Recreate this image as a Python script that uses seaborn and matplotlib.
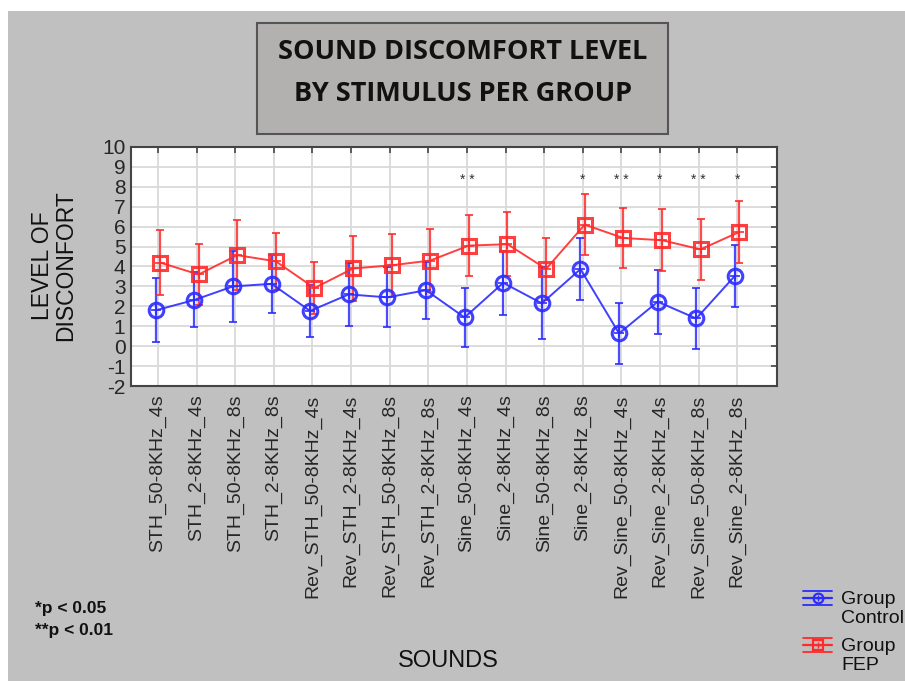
import numpy as np
import pandas as pd
import matplotlib
matplotlib.use("Agg")
import matplotlib.pyplot as plt
import seaborn as sns
from matplotlib.patches import Rectangle

# ---------------- data ----------------
sounds = ["STH_50-8KHz_4s", "STH_2-8KHz_4s", "STH_50-8KHz_8s", "STH_2-8KHz_8s",
          "Rev_STH_50-8KHz_4s", "Rev_STH_2-8KHz_4s", "Rev_STH_50-8KHz_8s", "Rev_STH_2-8KHz_8s",
          "Sine_50-8KHz_4s", "Sine_2-8KHz_4s", "Sine_50-8KHz_8s", "Sine_2-8KHz_8s",
          "Rev_Sine_50-8KHz_4s", "Rev_Sine_2-8KHz_4s", "Rev_Sine_50-8KHz_8s", "Rev_Sine_2-8KHz_8s"]
control_mean = [1.80, 2.32, 3.00, 3.13, 1.77, 2.60, 2.45, 2.81, 1.44, 3.18, 2.15, 3.87, 0.64, 2.23, 1.39, 3.53]
control_err = [1.60, 1.38, 1.78, 1.45, 1.30, 1.60, 1.50, 1.43, 1.50, 1.60, 1.80, 1.54, 1.53, 1.60, 1.53, 1.55]
fep_mean = [4.20, 3.60, 4.57, 4.26, 2.92, 3.90, 4.06, 4.30, 5.05, 5.12, 3.88, 6.10, 5.43, 5.32, 4.86, 5.73]
fep_err = [1.63, 1.55, 1.75, 1.43, 1.30, 1.63, 1.57, 1.57, 1.53, 1.60, 1.57, 1.53, 1.50, 1.56, 1.55, 1.55]
signif = ["", "", "", "", "", "", "", "", "**", "", "", "*", "**", "*", "**", "*"]
groups = ["Control", "FEP"]
y_ticks = list(range(-2, 11))

# ---------------- style ----------------
sns.set_theme(style="white")
plt.rcParams["font.family"] = ["Liberation Sans", "DejaVu Sans"]

W, H = 905, 681
fig = plt.figure(figsize=(W / 100, H / 100), dpi=100)
fig.patch.set_facecolor("white")

# gray page background
bg = fig.add_axes([0, 0, 1, 1])
bg.set_xlim(0, W)
bg.set_ylim(H, 0)
bg.axis("off")
bg.add_patch(Rectangle((8, 11), W - 8, H - 11, facecolor="#c0c0c0", edgecolor="none"))

# main axes
left, right, top, bottom = 131, 777, 147, 386
ax = fig.add_axes([left / W, 1 - bottom / H, (right - left) / W, (bottom - top) / H])
ax.set_facecolor("white")

blue = "#2b2bff"
red = "#ff2b2b"
offsets = {"Control": -0.06, "FEP": 0.05}
colors = {"Control": blue, "FEP": red}

x = np.arange(len(sounds))
df = pd.DataFrame({
    "pos": np.concatenate([x + offsets["Control"], x + offsets["FEP"]]),
    "mean": control_mean + fep_mean,
    "err": control_err + fep_err,
    "group": ["Control"] * len(sounds) + ["FEP"] * len(sounds),
})

for g, mk, ms in [("Control", "o", 10.5), ("FEP", "s", 10.5)]:
    sub = df[df["group"] == g]
    ax.errorbar(sub["pos"], sub["mean"], yerr=sub["err"], fmt="none",
                ecolor=colors[g], elinewidth=1.6, capsize=3, capthick=1.4, alpha=0.85, zorder=3)
    sns.lineplot(data=sub, x="pos", y="mean", ax=ax, color=colors[g], lw=1.4,
                 marker=mk, markersize=ms, markerfacecolor="none",
                 markeredgecolor=colors[g], markeredgewidth=2.2, alpha=0.9,
                 legend=False, zorder=4)
    ax.plot(sub["pos"], sub["mean"], linestyle="none", marker="+", markersize=ms * 0.75,
            color=colors[g], markeredgewidth=1.3, alpha=0.9, zorder=5)

for i, s in enumerate(signif):
    if s:
        ax.text(i, 8.35, " ".join(s), ha="center", va="center", fontsize=10, color="#333333")

ax.set_xlim(-0.70, 16.03)
ax.set_ylim(-2, 10)
ax.set_xticks(x)
ax.set_xticklabels(sounds, rotation=90, fontsize=14, va="top", ha="center")
ax.set_yticks(y_ticks)
ax.set_yticklabels([str(t) for t in y_ticks], fontsize=15)
ax.grid(True, color="#d9d9d9", lw=1.3)
ax.tick_params(axis="x", bottom=False, top=True, direction="in", length=4,
               width=1.2, color="#444444", labelbottom=True, pad=6)
ax.tick_params(axis="y", left=False, right=True, direction="in", length=4,
               width=1.2, color="#444444", labelleft=True, pad=4)
for sp in ax.spines.values():
    sp.set_color("#444444")
    sp.set_linewidth(1.5)
ax.set_xlabel("")
ax.set_ylabel("")

# axis titles
bg.text(54, 266, "LEVEL OF\nDISCONFORT", rotation=90, ha="center", va="center",
        fontsize=16.5, color="#111111", linespacing=1.0)
bg.text(448, 661, "SOUNDS", ha="center", va="center", fontsize=17, color="#111111")

# title box
bg.add_patch(Rectangle((257, 23), 411, 111, facecolor="#b3b0b0", edgecolor="#555555", lw=1.5))
bg.text(463, 52, "SOUND DISCOMFORT LEVEL", ha="center", va="center", fontsize=19.5,
        fontweight="bold", family=["Open Sans", "DejaVu Sans"], color="#111111")
bg.text(463, 94, "BY STIMULUS PER GROUP", ha="center", va="center", fontsize=19.5,
        fontweight="bold", family=["Open Sans", "DejaVu Sans"], color="#111111")

# footnote
bg.text(35, 608, "*p < 0.05", ha="left", va="center", fontsize=12.5, fontweight="bold", color="#111111")
bg.text(35, 630, "**p < 0.01", ha="left", va="center", fontsize=12.5, fontweight="bold", color="#111111")

# legend
for g, mk, yy, label in [("Control", "o", 598, "Group\nControl"), ("FEP", "s", 645, "Group\nFEP")]:
    c = colors[g]
    bg.plot([803, 832], [yy - 7, yy - 7], color=c, lw=1.3)
    bg.plot([803, 832], [yy, yy], color=c, lw=1.6)
    bg.plot([803, 832], [yy + 7, yy + 7], color=c, lw=1.3)
    bg.plot([817.5], [yy], marker=mk, markersize=7, mfc="none", mec=c, mew=1.6)
    bg.plot([817.5], [yy], marker="+", markersize=5, color=c, mew=1.0)
    bg.text(841, yy + 11, label, ha="left", va="center", fontsize=14, color="#111111",
            linespacing=1.15)

fig.savefig("out.png", dpi=100, facecolor=fig.get_facecolor())
